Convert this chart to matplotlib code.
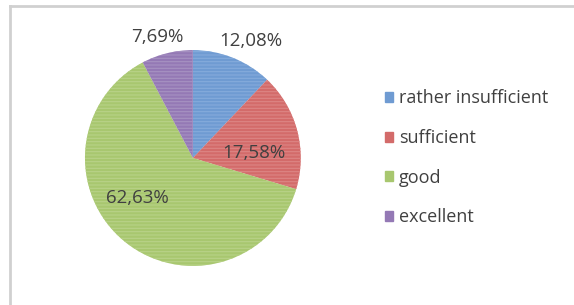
import matplotlib.pyplot as plt
from matplotlib.lines import Line2D

# data
categories = ["rather insufficient", "sufficient", "good", "excellent"]
shares = [12.08, 17.58, 62.63, 7.69]
pct_labels = ["12,08%", "17,58%", "62,63%", "7,69%"]

COLORS = ["#6f9bd2", "#d36b6a", "#a8c76f", "#9479b5"]
STRIPES = ["#85abdb", "#dc8584", "#b8d288", "#a792c2"]
TEXT = "#404040"
# where each percentage label sits (pie radius = 1)
LABEL_POS = [(0.54, 1.08), (0.57, 0.05), (-0.51, -0.37), (-0.33, 1.12)]

fig = plt.figure(figsize=(5.74, 3.05), dpi=100)
ax = fig.add_axes([0.148, 0.128, 0.376, 0.708])

wedges, _ = ax.pie(shares, colors=COLORS, startangle=90, counterclock=False,
                   wedgeprops=dict(linewidth=0))
# faint horizontal stripes like the scanned original
plt.rcParams["hatch.linewidth"] = 0.8
for w, c in zip(wedges, STRIPES):
    w2 = plt.matplotlib.patches.Wedge(w.center, w.r, w.theta1, w.theta2,
                                      fill=False, hatch="-----", edgecolor=c,
                                      linewidth=0)
    ax.add_patch(w2)

for txt, (x, y) in zip(pct_labels, LABEL_POS):
    ax.text(x, y, txt, ha="center", va="center", fontsize=13.5,
            color=TEXT, family="Open Sans")

ax.set_xlim(-1, 1)
ax.set_ylim(-1, 1)
ax.set_aspect("equal")
ax.axis("off")

handles = [plt.matplotlib.patches.Patch(color=c) for c in COLORS]
leg = fig.legend(handles, categories, loc="upper left",
                 bbox_to_anchor=(0.643, 0.76), frameon=False,
                 prop=dict(family="Open Sans", size=13),
                 labelspacing=1.2, handlelength=0.45, handleheight=0.45,
                 handletextpad=0.3, labelcolor=TEXT)

# chart frame (only top and left edge visible)
fig.add_artist(Line2D([10 / 574, 10 / 574], [0, 1 - 6 / 305], color="#d0d0d0",
                      lw=2, transform=fig.transFigure))
fig.add_artist(Line2D([10 / 574, 1], [1 - 6 / 305, 1 - 6 / 305], color="#d0d0d0",
                      lw=2, transform=fig.transFigure))

fig.savefig("out.png", dpi=100)
